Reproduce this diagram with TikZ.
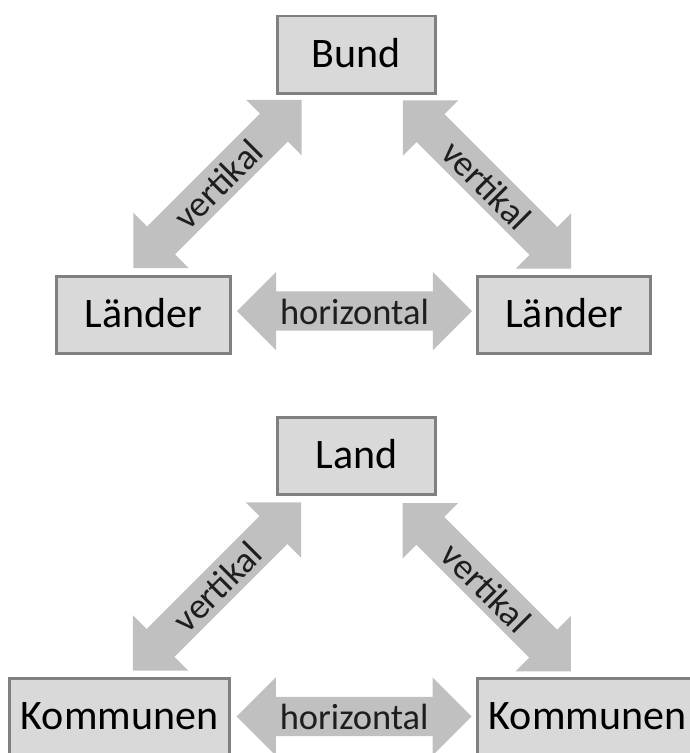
\documentclass[tikz,border=0pt]{standalone}
\usepackage{fontspec}
\setmainfont{Carlito}
\usepackage{tikz}
\usetikzlibrary{shapes.arrows}

\definecolor{boxfill}{HTML}{D9D9D9}
\definecolor{boxline}{HTML}{808080}
\definecolor{arrowfill}{HTML}{C0C0C0}
\definecolor{labeltext}{HTML}{1E1E1E}

\begin{document}
\begin{tikzpicture}[x=1pt, y=-1pt,
		livello/.style={draw=boxline, line width=2.7pt, fill=boxfill, inner sep=0pt, minimum height=77.3pt, text height=25pt, text depth=0pt, font=\fontsize{42}{50}\selectfont},
		relazione/.style={double arrow, draw=none, fill=arrowfill, double arrow head extend=19.5pt, double arrow tip angle=90, inner xsep=0pt, inner ysep=6.5pt, minimum width=0pt, minimum height=236pt, text height=26pt, text depth=0pt, text=labeltext, font=\fontsize{36.5}{44}\selectfont}]
					%%% Cornice
					\useasboundingbox (0,0) rectangle (690,753);
					\clip (0,0) rectangle (690,753);
					
					%%% Riquadri - Federazione
					\node [livello, minimum width=158.3pt] (bund) at (356.5,54.5) {Bund};
					\node [livello, minimum width=174.3pt] (laenderL) at (143.5,315) {Länder};
					\node [livello, minimum width=173.3pt] (laenderR) at (564,315) {Länder};
					
					%%% Frecce - Federazione
					\node [relazione, minimum height=238pt, rotate=45] (vertBL) at (217.5,184) {vertikal};
					\node [relazione, minimum height=238pt, rotate=-45] (vertBR) at (487,184.5) {vertikal};
					\node [relazione, minimum height=235pt] (horL) at (354.5,311) {horizontal};
					
					%%% Riquadri - Land
					\node [livello, minimum width=158.3pt] (land) at (356.5,456) {Land};
					\node [livello, minimum width=220.3pt] (kommunenL) at (119.5,717) {Kommunen};
					\node [livello, minimum width=220.3pt] (kommunenR) at (587.5,717) {Kommunen};
					
					%%% Frecce - Land
					\node [relazione, minimum height=238pt, rotate=45] (vertLL) at (217,586.5) {vertikal};
					\node [relazione, minimum height=238pt, rotate=-45] (vertLR) at (486.7,587.3) {vertikal};
					\node [relazione, minimum height=235pt] (horK) at (354.2,716.5) {horizontal};
				\end{tikzpicture}
\end{document}
